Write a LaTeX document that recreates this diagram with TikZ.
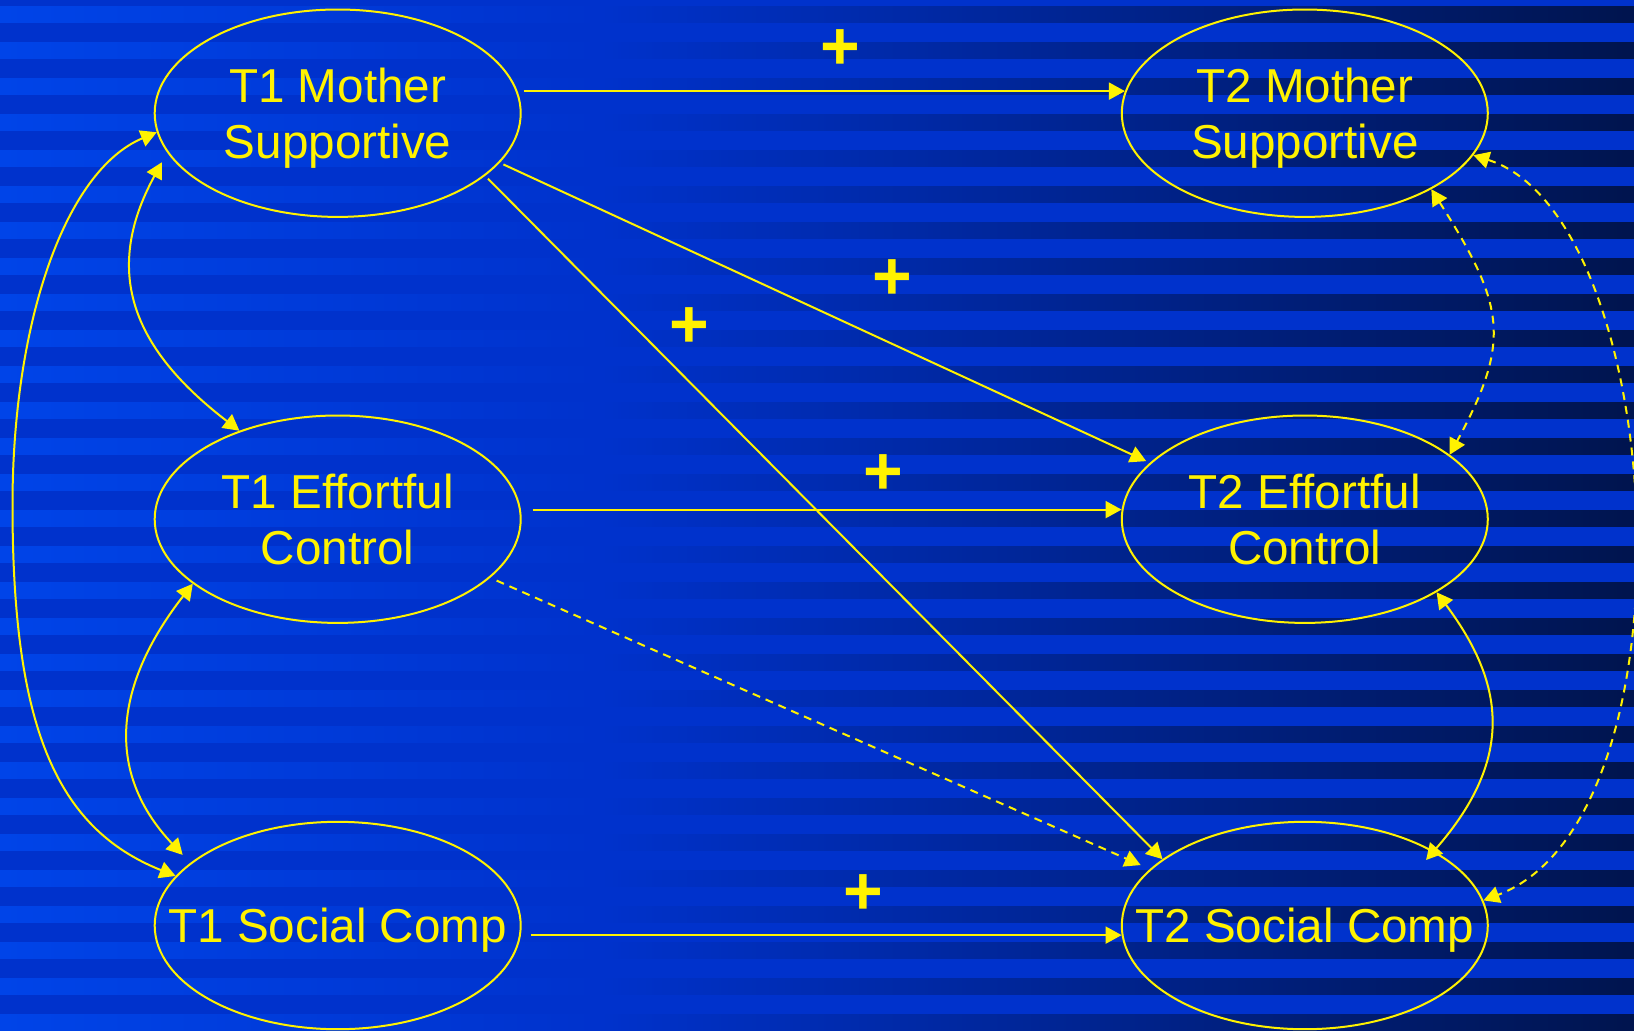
\documentclass[tikz,border=0pt]{standalone}
\usepackage{fontspec}
\setmainfont{Liberation Sans}
\usetikzlibrary{shapes.geometric, arrows.meta}

\definecolor{bgblue}{RGB}{0,50,204}
\definecolor{stripelight}{RGB}{0,68,232}
\definecolor{stripedark}{RGB}{0,20,78}

\begin{document}
\begin{tikzpicture}[x=0.5pt, y=-0.5pt,
    latent/.style={ellipse, draw=yellow, line width=1pt,
        minimum width=183pt, minimum height=103.7pt, inner sep=0pt},
    vartext/.style={text=yellow, align=center, inner sep=0pt, text depth=0pt,
        font=\fontsize{23.8}{28.3}\selectfont},
    sign/.style={text=yellow, inner sep=0pt, font=\fontsize{34}{34}\selectfont\bfseries},
    link/.style={draw=yellow, line width=1pt, -{Triangle[length=8pt, width=8.5pt]}},
    twoway/.style={link, {Triangle[length=8pt, width=8.5pt]}-{Triangle[length=8pt, width=8.5pt]}},
    dashlink/.style={dash pattern=on 4pt off 3pt}
]
    \useasboundingbox (0,0) rectangle (1634,1030);
    % background with striped bands
    \fill[bgblue] (0,0) rectangle (1634,1030);
    \foreach \k in {0,...,28} {
        \shade[left color=stripelight, right color=bgblue] (0,6+36*\k) rectangle (600,22+36*\k);
        \shade[left color=bgblue, right color=stripedark] (600,6+36*\k) rectangle (1634,22+36*\k);
    }

    % time 1 and time 2 variables
    \node[latent] (t1ms) at (337.7,113.2) {};
    \node[latent] (t1ec) at (337.7,519.2) {};
    \node[latent] (t1sc) at (337.7,925.5) {};
    \node[latent] (t2ms) at (1304.8,113.2) {};
    \node[latent] (t2ec) at (1304.8,519.2) {};
    \node[latent] (t2sc) at (1304.8,925.5) {};
    \node[vartext] (t1mstext) at (t1ms) {T1 Mother\\Supportive};
    \node[vartext] (t1ectext) at (t1ec) {T1 Effortful\\Control};
    \node[vartext] (t1sctext) at (t1sc) {T1 Social Comp};
    \node[vartext] (t2mstext) at (t2ms) {T2 Mother\\Supportive};
    \node[vartext] (t2ectext) at (t2ec) {T2 Effortful\\Control};
    \node[vartext] (t2sctext) at (t2sc) {T2 Social Comp};

    % signs of the paths
    \node[sign] (p1) at (840.7,50) {+};
    \node[sign] (p2) at (892.3,279.5) {+};
    \node[sign] (p3) at (689,327.5) {+};
    \node[sign] (p4) at (883.7,474.5) {+};
    \node[sign] (p5) at (863.8,894.5) {+};

    % paths across time
    \draw[link, shorten <=3pt] (t1ms.7) -- (t2ms.173);
    \draw[link, shorten <=2pt, shorten >=2pt] (t1ms.343) -- (t2ec.160);
    \draw[link, shorten <=2pt] (t1ms.337) -- (t2sc.155);
    \draw[link, shorten <=6pt] (t1ec.3) -- (t2ec.177);
    \draw[link, dashlink, shorten <=3.5pt, shorten >=5pt] (t1ec.339) -- (t2sc.160);
    \draw[link, shorten <=5pt] (t1sc.357) -- (t2sc.183);

    % correlations within time
    \coordinate (bendleft) at (12.5,505);
    \draw[twoway, shorten >=5.5pt] (t1ec.138) .. controls (135.6,351) and (100.5,274.7) .. (t1ms.193);
    \draw[twoway, shorten >=5.5pt] (t1ec.204) .. controls (120,677.1) and (99.6,766.6) .. (t1sc.157);
    \draw[twoway] (t1ms.186) .. controls (64.1,171.3) and (12.5,325) .. (bendleft)
        .. controls (12.5,725) and (55.3,828) .. (t1sc.163);
    \draw[twoway, dashlink] (t2ms.329) .. controls (1505.1,305.6) and (1511.5,340.7) .. (t2ec.24);
    \draw[twoway, shorten >=-6pt] (t2ec.331) .. controls (1503.7,682.2) and (1516,756.7) .. (t2sc.30);
    \draw[twoway, dashlink] (t2ms.346) .. controls (1668.5,216.7) and (1700.8,818) .. (t2sc.8);
\end{tikzpicture}
\end{document}
